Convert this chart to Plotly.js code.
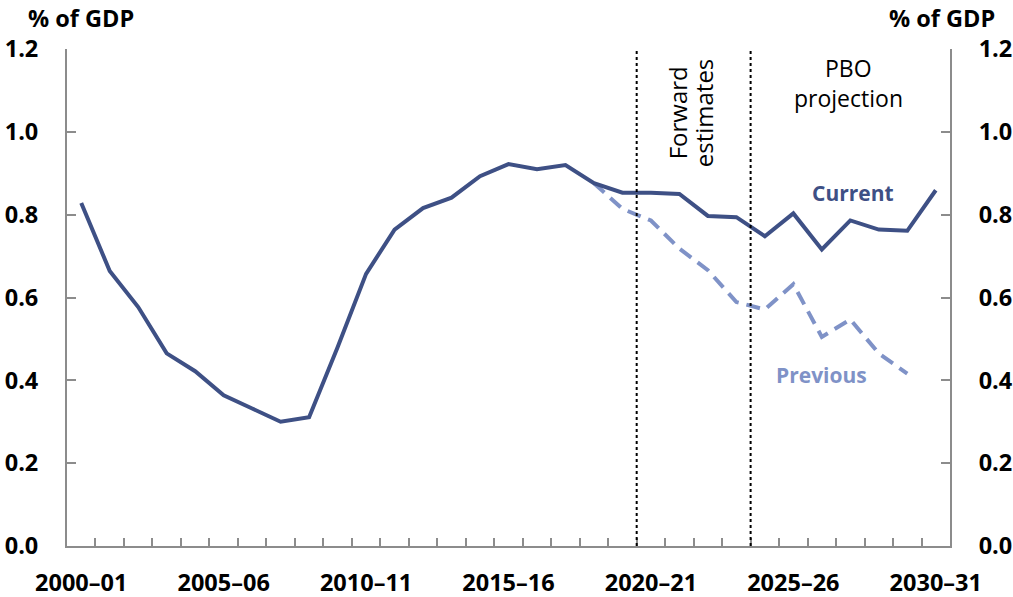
<!DOCTYPE html>
<html>
<head>
<meta charset="utf-8">
<script src="https://cdn.plot.ly/plotly-3.0.1.min.js"></script>
<style>html,body{margin:0;padding:0;background:#fff;}#chart{width:1013px;height:597px;}</style>
</head>
<body>
<div id="chart"></div>
<script>
const categories = ["2000–01","2001–02","2002–03","2003–04","2004–05","2005–06","2006–07","2007–08","2008–09","2009–10",
  "2010–11","2011–12","2012–13","2013–14","2014–15","2015–16","2016–17","2017–18","2018–19","2019–20",
  "2020–21","2021–22","2022–23","2023–24","2024–25","2025–26","2026–27","2027–28","2028–29","2029–30","2030–31"];
const currentValues = [0.828,0.664,0.577,0.465,0.422,0.364,0.332,0.300,0.311,0.480,
  0.657,0.764,0.816,0.841,0.893,0.922,0.910,0.920,0.876,0.853,
  0.853,0.850,0.797,0.794,0.748,0.803,0.716,0.786,0.764,0.761,0.859];
const previousCategories = ["2018–19","2019–20","2020–21","2021–22","2022–23","2023–24","2024–25","2025–26","2026–27","2027–28","2028–29","2029–30"];
const previousValues = [0.876,0.814,0.786,0.718,0.666,0.589,0.571,0.632,0.505,0.547,0.465,0.416];
const tickLabels = ["2000–01","2005–06","2010–11","2015–16","2020–21","2025–26","2030–31"];
const yTicks = [0,0.2,0.4,0.6,0.8,1.0,1.2];
const periodBoundaries = [19.5, 23.5];

const darkBlue = "#3E5085";
const lightBlue = "#7F92C7";
const axisGray = "#8C8C8C";
const fontFam = "'Open Sans', sans-serif";

const traces = [
  {x: previousCategories, y: previousValues, type: "scatter", mode: "lines",
   line: {color: lightBlue, width: 4, dash: "14px,8px"}, hoverinfo: "skip"},
  {x: categories, y: currentValues, type: "scatter", mode: "lines",
   line: {color: darkBlue, width: 4}, hoverinfo: "skip"},
  {x: categories, y: currentValues, yaxis: "y2", type: "scatter", mode: "lines",
   line: {width: 0}, opacity: 0, hoverinfo: "skip"}
];

const yAxisCommon = {
  range: [0, 1.2], tickvals: yTicks, ticktext: yTicks.map(v => v.toFixed(1)),
  showgrid: false, zeroline: false, showline: true, linecolor: axisGray, linewidth: 2,
  ticks: "inside", ticklen: 9, tickwidth: 2, tickcolor: axisGray,
  tickfont: {family: fontFam, size: 23.5, color: "#000", weight: "bold"},
  ticklabelstandoff: 22, fixedrange: true
};

const plotL = 67, plotR = 950, plotT = 49, plotB = 546;
const px2paperX = px => (px - plotL) / (plotR - plotL);
const px2paperY = py => (plotB - py) / (plotB - plotT);

const layout = {
  width: 1013, height: 597,
  margin: {l: 67, r: 63, t: 49, b: 51},
  paper_bgcolor: "#fff", plot_bgcolor: "#fff",
  showlegend: false,
  xaxis: {
    type: "category", categoryarray: categories, range: [-0.5, 30.5],
    tickmode: "array", tickvals: categories,
    ticktext: categories.map(c => tickLabels.includes(c) ? c : ""),
    tickson: "boundaries", ticks: "inside", ticklen: 8, tickwidth: 2, tickcolor: axisGray,
    tickangle: 0, automargin: false,
    showline: true, linecolor: axisGray, linewidth: 2, showgrid: false, zeroline: false,
    tickfont: {family: fontFam, size: 23.5, color: "#000", weight: "bold"},
    ticklabelstandoff: 15, fixedrange: true
  },
  yaxis: Object.assign({side: "left"}, yAxisCommon),
  yaxis2: Object.assign({side: "right", overlaying: "y"}, yAxisCommon),
  shapes: periodBoundaries.map(b => ({
    type: "line", xref: "x", yref: "y", x0: b, x1: b, y0: 0, y1: 1.195,
    line: {color: "#000", width: 2, dash: "dot"}
  })),
  annotations: [
    {xref: "paper", yref: "paper", x: px2paperX(80.5), y: px2paperY(18), xanchor: "center", yanchor: "middle",
     text: "% of GDP", showarrow: false, font: {family: fontFam, size: 23.5, color: "#000", weight: "bold"}},
    {xref: "paper", yref: "paper", x: px2paperX(942), y: px2paperY(18), xanchor: "center", yanchor: "middle",
     text: "% of GDP", showarrow: false, font: {family: fontFam, size: 23.5, color: "#000", weight: "bold"}},
    {xref: "x", yref: "y", x: 20.92, y: 1.045, textangle: -90, xanchor: "center", yanchor: "middle",
     text: "Forward", showarrow: false, font: {family: fontFam, size: 24, color: "#000"}},
    {xref: "x", yref: "y", x: 21.83, y: 1.045, textangle: -90, xanchor: "center", yanchor: "middle",
     text: "estimates", showarrow: false, font: {family: fontFam, size: 24, color: "#000"}},
    {xref: "x", yref: "y", x: 26.92, y: 1.1545, xanchor: "center", yanchor: "middle",
     text: "PBO", showarrow: false, font: {family: fontFam, size: 23, color: "#000"}},
    {xref: "x", yref: "y", x: 26.92, y: 1.082, xanchor: "center", yanchor: "middle",
     text: "projection", showarrow: false, font: {family: fontFam, size: 23, color: "#000"}},
    {xref: "x", yref: "y", x: 27.1, y: 0.852, xanchor: "center", yanchor: "middle",
     text: "Current", showarrow: false, font: {family: fontFam, size: 21, color: darkBlue, weight: "bold"}},
    {xref: "x", yref: "y", x: 26.0, y: 0.412, xanchor: "center", yanchor: "middle",
     text: "Previous", showarrow: false, font: {family: fontFam, size: 21, color: lightBlue, weight: "bold"}}
  ]
};

Plotly.newPlot("chart", traces, layout, {displayModeBar: false, staticPlot: true});
</script>
</body>
</html>
